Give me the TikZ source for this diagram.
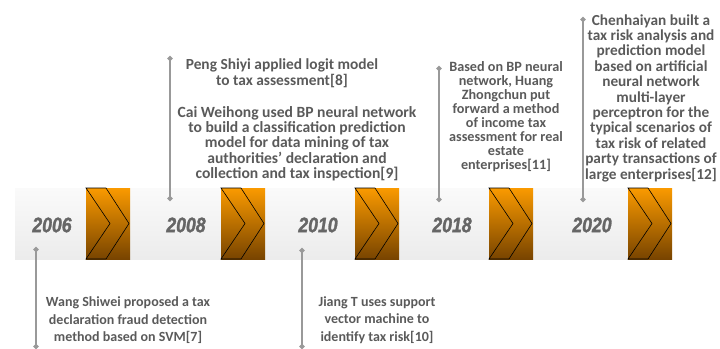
\documentclass[tikz,border=0pt]{standalone}
\usepackage{fontspec}
\setmainfont{Carlito}
\newfontfamily\yearfont[FakeStretch=0.84, BoldFont={Liberation Sans Bold Italic}, BoldFeatures={FakeBold=1.4}]{Liberation Sans Bold Italic}
\usetikzlibrary{arrows.meta, positioning, calc}
\definecolor{txtgray}{HTML}{5A5A5A}
\definecolor{yeargray}{HTML}{666666}
\definecolor{linegray}{HTML}{999999}
\definecolor{orangetop}{HTML}{FA9A00}
\definecolor{orangebot}{HTML}{784400}

\tikzset{
  band/.style={top color=gray!4, bottom color=gray!15, draw=none},
  chevbox/.style={top color=orangetop, bottom color=orangebot, draw=none},
  chev/.style={draw=black, line width=0.6pt, line join=miter},
  year/.style={font=\yearfont\bfseries\fontsize{21}{21}\selectfont, text=yeargray, inner sep=0},
  desc/.style={text=txtgray, align=center, inner sep=0, font=\bfseries},
  pin/.style={draw=linegray, line width=1.3pt, {Circle[length=5pt]}-{Circle[length=5pt]}},
}

\begin{document}
\begin{tikzpicture}[x=1pt, y=-1pt]
  \useasboundingbox (0,0) rectangle (720,348);
  % timeline band
  \fill[band] (15,188) rectangle (671,259);
  \foreach \bx in {86,221,355,489,628} {
    \fill[chevbox] (\bx,188) rectangle ++(44,71);
    \draw[chev] (\bx,188) -- ++(20,0) -- ++(23,35.5) -- ++(-23,35.5)
      -- ++(-20,0) -- ++(24,-35.5) -- cycle;
  }
  % years
  \foreach \yr/\yx in {2006/52, 2008/186, 2010/318, 2018/452, 2020/592}
    \node[year] (y\yr) at (\yx,225) {\yr};

  % pins
  \coordinate (p7a) at (36,247);   \coordinate (p7b) at (36,349);
  \coordinate (p8a) at (170,201);  \coordinate (p8b) at (170,56);
  \coordinate (p10a) at (302,248); \coordinate (p10b) at (302,349);
  \coordinate (p11a) at (439,202); \coordinate (p11b) at (439,66);
  \coordinate (p12a) at (583,202); \coordinate (p12b) at (583,17);
  \draw[pin] (p7a) -- (p7b);
  \draw[pin] (p8a) -- (p8b);
  \draw[pin] (p10a) -- (p10b);
  \draw[pin] (p11a) -- (p11b);
  \draw[pin] (p12a) -- (p12b);

  % descriptions
  \node[desc, font=\bfseries\fontsize{15.4}{16}\selectfont] (t8) at (282,73)
    {Peng Shiyi applied logit model\\to tax assessment[8]};
  \node[desc, font=\bfseries\fontsize{15.6}{15.3}\selectfont] (t9) at (297,143.5)
    {Cai Weihong used BP neural network\\to build a classification prediction\\model for data mining of tax\\authorities' declaration and\\collection and tax inspection[9]};
  \node[desc, font=\bfseries\fontsize{14.2}{13.9}\selectfont] (t11) at (506,116.5)
    {Based on BP neural\\network, Huang\\Zhongchun put\\forward a method\\of income tax\\assessment for real\\estate\\enterprises[11]};
  \node[desc, font=\bfseries\fontsize{15.3}{15.4}\selectfont] (t12) at (651,98)
    {Chenhaiyan built a\\tax risk analysis and\\prediction model\\based on artificial\\neural network\\multi-layer\\perceptron for the\\typical scenarios of\\tax risk of related\\party transactions of\\large enterprises[12]};
  \node[desc, font=\bfseries\fontsize{14}{17.5}\selectfont] (t7) at (128,320.5)
    {Wang Shiwei proposed a tax\\declaration fraud detection\\method based on SVM[7]};
  \node[desc, font=\bfseries\fontsize{14}{17.5}\selectfont] (t10) at (377,320)
    {Jiang T uses support\\vector machine to\\identify tax risk[10]};
\end{tikzpicture}
\end{document}
